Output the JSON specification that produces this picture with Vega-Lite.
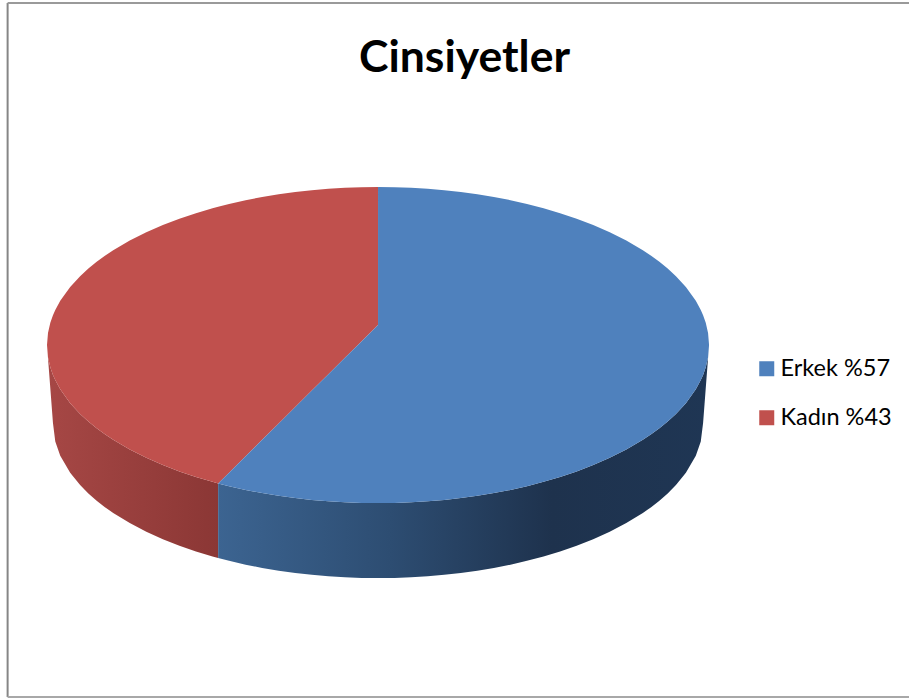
{"$schema":"https://vega.github.io/schema/vega-lite/v6.json","width":909,"height":698,"padding":0,"autosize":{"type":"none"},"background":"white","view":{"stroke":null},
"title":{"text":"Cinsiyetler","font":"Lato","fontWeight":"bold","fontSize":44.5,"color":"#000000","anchor":"middle","dx":10,"offset":-81,"frame":"group"},
"datasets":{"side":[
{"slice":"Kadın %43","u":-100,"v":0,"v2":0},{"slice":"Kadın %43","u":-99.7,"v":-7.7,"v2":-8.2},{"slice":"Kadın %43","u":-99,"v":-14.1,"v2":-27.4},{"slice":"Kadın %43","u":-98.2,"v":-18.9,"v2":-49.4},{"slice":"Kadın %43","u":-97.5,"v":-22.2,"v2":-61.1},{"slice":"Kadın %43","u":-96,"v":-28,"v2":-70},{"slice":"Kadın %43","u":-93,"v":-36.8,"v2":-80.9},{"slice":"Kadın %43","u":-90,"v":-43.6,"v2":-88.6},{"slice":"Kadın %43","u":-87.5,"v":-48.4,"v2":-93.9},{"slice":"Kadın %43","u":-85,"v":-52.7,"v2":-98.5},{"slice":"Kadın %43","u":-82.5,"v":-56.5,"v2":-102.6},{"slice":"Kadın %43","u":-80,"v":-60,"v2":-106.3},{"slice":"Kadın %43","u":-75,"v":-66.1,"v2":-112.7},{"slice":"Kadın %43","u":-70,"v":-71.4,"v2":-118.2},{"slice":"Kadın %43","u":-65,"v":-76,"v2":-122.9},{"slice":"Kadın %43","u":-60,"v":-80,"v2":-127.1},{"slice":"Kadın %43","u":-55,"v":-83.5,"v2":-130.7},{"slice":"Kadın %43","u":-50,"v":-86.6,"v2":-133.8},{"slice":"Kadın %43","u":-48.3,"v":-87.6,"v2":-134.8},
{"slice":"Erkek %57","u":-48.3,"v":-87.6,"v2":-134.8},{"slice":"Erkek %57","u":-45,"v":-89.3,"v2":-136.6},{"slice":"Erkek %57","u":-40,"v":-91.7,"v2":-139},{"slice":"Erkek %57","u":-35,"v":-93.7,"v2":-141.1},{"slice":"Erkek %57","u":-30,"v":-95.4,"v2":-142.8},{"slice":"Erkek %57","u":-25,"v":-96.8,"v2":-144.3},{"slice":"Erkek %57","u":-20,"v":-98,"v2":-145.4},{"slice":"Erkek %57","u":-15,"v":-98.9,"v2":-146.4},{"slice":"Erkek %57","u":-10,"v":-99.5,"v2":-147},{"slice":"Erkek %57","u":-5,"v":-99.9,"v2":-147.4},{"slice":"Erkek %57","u":0,"v":-100,"v2":-147.5},{"slice":"Erkek %57","u":5,"v":-99.9,"v2":-147.4},{"slice":"Erkek %57","u":10,"v":-99.5,"v2":-147},{"slice":"Erkek %57","u":15,"v":-98.9,"v2":-146.4},{"slice":"Erkek %57","u":20,"v":-98,"v2":-145.4},{"slice":"Erkek %57","u":25,"v":-96.8,"v2":-144.3},{"slice":"Erkek %57","u":30,"v":-95.4,"v2":-142.8},{"slice":"Erkek %57","u":35,"v":-93.7,"v2":-141.1},{"slice":"Erkek %57","u":40,"v":-91.7,"v2":-139},{"slice":"Erkek %57","u":45,"v":-89.3,"v2":-136.6},{"slice":"Erkek %57","u":50,"v":-86.6,"v2":-133.8},{"slice":"Erkek %57","u":55,"v":-83.5,"v2":-130.7},{"slice":"Erkek %57","u":60,"v":-80,"v2":-127.1},{"slice":"Erkek %57","u":65,"v":-76,"v2":-122.9},{"slice":"Erkek %57","u":70,"v":-71.4,"v2":-118.2},{"slice":"Erkek %57","u":75,"v":-66.1,"v2":-112.7},{"slice":"Erkek %57","u":80,"v":-60,"v2":-106.3},{"slice":"Erkek %57","u":82.5,"v":-56.5,"v2":-102.6},{"slice":"Erkek %57","u":85,"v":-52.7,"v2":-98.5},{"slice":"Erkek %57","u":87.5,"v":-48.4,"v2":-93.9},{"slice":"Erkek %57","u":90,"v":-43.6,"v2":-88.6},{"slice":"Erkek %57","u":93,"v":-36.8,"v2":-80.9},{"slice":"Erkek %57","u":96,"v":-28,"v2":-70},{"slice":"Erkek %57","u":97.5,"v":-22.2,"v2":-61.1},{"slice":"Erkek %57","u":98.2,"v":-18.9,"v2":-49.4},{"slice":"Erkek %57","u":99,"v":-14.1,"v2":-27.4},{"slice":"Erkek %57","u":99.7,"v":-7.7,"v2":-8.2},{"slice":"Erkek %57","u":100,"v":0,"v2":0}
],
"top":[
{"slice":"Kadın %43","u":-100,"v":0,"v2":0},{"slice":"Kadın %43","u":-99.7,"v":7.7,"v2":-7.7},{"slice":"Kadın %43","u":-99,"v":14.1,"v2":-14.1},{"slice":"Kadın %43","u":-98.2,"v":18.9,"v2":-18.9},{"slice":"Kadın %43","u":-97.5,"v":22.2,"v2":-22.2},{"slice":"Kadın %43","u":-96,"v":28,"v2":-28},{"slice":"Kadın %43","u":-93,"v":36.8,"v2":-36.8},{"slice":"Kadın %43","u":-90,"v":43.6,"v2":-43.6},{"slice":"Kadın %43","u":-87.5,"v":48.4,"v2":-48.4},{"slice":"Kadın %43","u":-85,"v":52.7,"v2":-52.7},{"slice":"Kadın %43","u":-82.5,"v":56.5,"v2":-56.5},{"slice":"Kadın %43","u":-80,"v":60,"v2":-60},{"slice":"Kadın %43","u":-75,"v":66.1,"v2":-66.1},{"slice":"Kadın %43","u":-70,"v":71.4,"v2":-71.4},{"slice":"Kadın %43","u":-65,"v":76,"v2":-76},{"slice":"Kadın %43","u":-60,"v":80,"v2":-80},{"slice":"Kadın %43","u":-55,"v":83.5,"v2":-83.5},{"slice":"Kadın %43","u":-50,"v":86.6,"v2":-86.6},{"slice":"Kadın %43","u":-48.3,"v":87.6,"v2":-87.6},{"slice":"Kadın %43","u":-45,"v":89.3,"v2":-80.8},{"slice":"Kadın %43","u":-40,"v":91.7,"v2":-70.4},{"slice":"Kadın %43","u":-35,"v":93.7,"v2":-60},{"slice":"Kadın %43","u":-30,"v":95.4,"v2":-49.6},{"slice":"Kadın %43","u":-25,"v":96.8,"v2":-39.2},{"slice":"Kadın %43","u":-20,"v":98,"v2":-28.8},{"slice":"Kadın %43","u":-15,"v":98.9,"v2":-18.5},{"slice":"Kadın %43","u":-10,"v":99.5,"v2":-8.1},{"slice":"Kadın %43","u":-5,"v":99.9,"v2":2.3},{"slice":"Kadın %43","u":0,"v":100,"v2":12.7},
{"slice":"Erkek %57","u":-48.3,"v":-87.6,"v2":-87.6},{"slice":"Erkek %57","u":-45,"v":-80.8,"v2":-89.3},{"slice":"Erkek %57","u":-40,"v":-70.4,"v2":-91.7},{"slice":"Erkek %57","u":-35,"v":-60,"v2":-93.7},{"slice":"Erkek %57","u":-30,"v":-49.6,"v2":-95.4},{"slice":"Erkek %57","u":-25,"v":-39.2,"v2":-96.8},{"slice":"Erkek %57","u":-20,"v":-28.8,"v2":-98},{"slice":"Erkek %57","u":-15,"v":-18.5,"v2":-98.9},{"slice":"Erkek %57","u":-10,"v":-8.1,"v2":-99.5},{"slice":"Erkek %57","u":-5,"v":2.3,"v2":-99.9},{"slice":"Erkek %57","u":0,"v":12.7,"v2":-100},{"slice":"Erkek %57","u":0,"v":100,"v2":-100},{"slice":"Erkek %57","u":5,"v":99.9,"v2":-99.9},{"slice":"Erkek %57","u":10,"v":99.5,"v2":-99.5},{"slice":"Erkek %57","u":15,"v":98.9,"v2":-98.9},{"slice":"Erkek %57","u":20,"v":98,"v2":-98},{"slice":"Erkek %57","u":25,"v":96.8,"v2":-96.8},{"slice":"Erkek %57","u":30,"v":95.4,"v2":-95.4},{"slice":"Erkek %57","u":35,"v":93.7,"v2":-93.7},{"slice":"Erkek %57","u":40,"v":91.7,"v2":-91.7},{"slice":"Erkek %57","u":45,"v":89.3,"v2":-89.3},{"slice":"Erkek %57","u":50,"v":86.6,"v2":-86.6},{"slice":"Erkek %57","u":55,"v":83.5,"v2":-83.5},{"slice":"Erkek %57","u":60,"v":80,"v2":-80},{"slice":"Erkek %57","u":65,"v":76,"v2":-76},{"slice":"Erkek %57","u":70,"v":71.4,"v2":-71.4},{"slice":"Erkek %57","u":75,"v":66.1,"v2":-66.1},{"slice":"Erkek %57","u":80,"v":60,"v2":-60},{"slice":"Erkek %57","u":82.5,"v":56.5,"v2":-56.5},{"slice":"Erkek %57","u":85,"v":52.7,"v2":-52.7},{"slice":"Erkek %57","u":87.5,"v":48.4,"v2":-48.4},{"slice":"Erkek %57","u":90,"v":43.6,"v2":-43.6},{"slice":"Erkek %57","u":93,"v":36.8,"v2":-36.8},{"slice":"Erkek %57","u":96,"v":28,"v2":-28},{"slice":"Erkek %57","u":97.5,"v":22.2,"v2":-22.2},{"slice":"Erkek %57","u":98.2,"v":18.9,"v2":-18.9},{"slice":"Erkek %57","u":99,"v":14.1,"v2":-14.1},{"slice":"Erkek %57","u":99.7,"v":7.7,"v2":-7.7},{"slice":"Erkek %57","u":100,"v":0,"v2":0}
]},
"encoding":{"x":{"field":"u","type":"quantitative","axis":null,"scale":{"domain":[-114.2,160.4],"nice":false,"zero":false}},"y":{"field":"v","type":"quantitative","axis":null,"scale":{"domain":[-223.4,218.4],"nice":false,"zero":false}},"y2":{"field":"v2"}},
"layer":[
{"data":{"values":[{"u":-111.9,"v":216.5,"v2":-222.8}]},"mark":{"type":"rule","color":"#868686","strokeWidth":2}},
{"data":{"values":[{"u":-111.9,"u2":160.4,"v":216.5}]},"mark":{"type":"rule","color":"#9a9a9a","strokeWidth":2},"encoding":{"x2":{"field":"u2"},"y2":{"value":null}}},
{"data":{"values":[{"u":-111.9,"u2":160.4,"v":-222.8}]},"mark":{"type":"rule","color":"#a8a8a8","strokeWidth":2},"encoding":{"x2":{"field":"u2"},"y2":{"value":null}}},
{"data":{"name":"side"},"transform":[{"filter":"datum.slice === 'Kadın %43'"}],"mark":{"type":"area","color":{"gradient":"linear","x1":0,"x2":1,"y1":0,"y2":0,"stops":[{"offset":0,"color":"#a64745"},{"offset":1,"color":"#8b3735"}]}}},
{"data":{"name":"side"},"transform":[{"filter":"datum.slice === 'Erkek %57'"}],"mark":{"type":"area","color":{"gradient":"linear","x1":0,"x2":1,"y1":0,"y2":0,"stops":[{"offset":0,"color":"#3c6491"},{"offset":0.35,"color":"#2d4d72"},{"offset":0.68,"color":"#1e324d"},{"offset":1,"color":"#1f3654"}]}}},
{"data":{"name":"top"},"mark":{"type":"area"},"encoding":{"color":{"field":"slice","type":"nominal","scale":{"domain":["Erkek %57","Kadın %43"],"range":["#4f81bd","#c0504d"]},"legend":{"title":null,"orient":"none","legendX":755,"legendY":357,"symbolType":"square","symbolSize":225,"symbolStrokeWidth":0,"labelFont":"Lato","labelFontSize":23.5,"labelColor":"#000000","labelOffset":2,"rowPadding":24,"symbolOpacity":1}}}}
]}
